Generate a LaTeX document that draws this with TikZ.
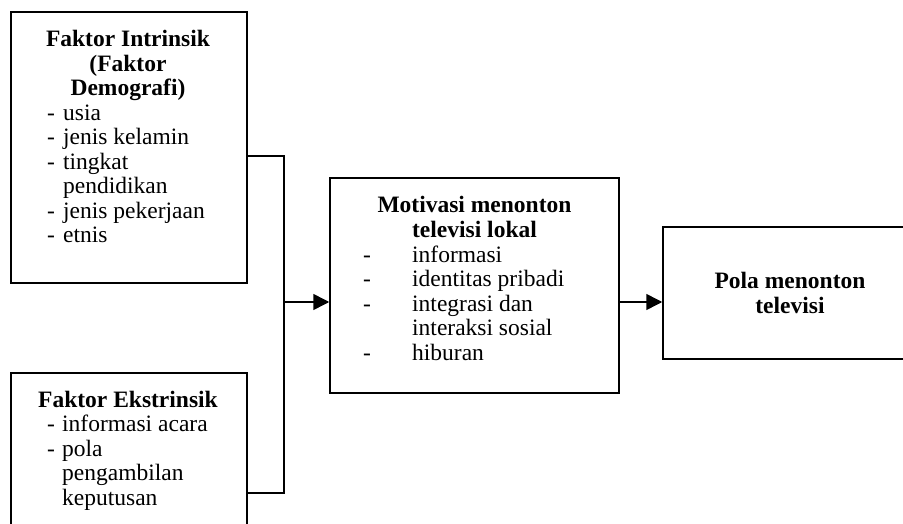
\documentclass[tikz,border=0pt]{standalone}
\usepackage{fontspec}
\setmainfont{Liberation Serif}
\usetikzlibrary{arrows.meta,positioning}

\newcommand{\bigfont}{\fontsize{23.5}{24.5}\selectfont}
\tikzset{
  box/.style={draw, line width=1.5pt, inner sep=0pt},
  title/.style={inner sep=0pt, anchor=base, font=\bigfont\bfseries},
  list/.style={inner sep=0pt, anchor=base west},
  link/.style={line width=1.5pt},
  flow/.style={line width=1.5pt, -{Triangle[length=16pt,width=16pt]}}
}

\begin{document}
\begin{tikzpicture}[x=1pt,y=-1pt,font=\bigfont]
\useasboundingbox (0,0) rectangle (903,524);
\clip (0,0) rectangle (903,524);

% boxes
\node [box, minimum width=236pt, minimum height=271pt] (intr) at (129,147.5) {};
\node [box, minimum width=236pt, minimum height=240pt] (ekst) at (129,493) {};
\node [box, minimum width=289pt, minimum height=215pt] (motiv) at (474.5,285.5) {};
\node [box, minimum width=254pt, minimum height=132pt, align=center, font=\bigfont\bfseries] (pola) at (790,293) {Pola menonton\\televisi};

% texts
\node [title] (intrtitle) at (128,47) {\begin{tabular}[t]{@{}c@{}}Faktor Intrinsik\\(Faktor\\Demografi)\end{tabular}};
\node [list] (intrlist) at (47,120.5) {\begin{tabular}[t]{@{}p{16pt}@{}l@{}}
-&usia\\-&jenis kelamin\\-&tingkat\\&pendidikan\\-&jenis pekerjaan\\-&etnis\end{tabular}};

\node [title] (eksttitle) at (128,407) {Faktor Ekstrinsik};
\node [list] (ekstlist) at (47,431.5) {\begin{tabular}[t]{@{}p{15pt}@{}l@{}}
-&informasi acara\\-&pola\\&pengambilan\\&keputusan\end{tabular}};

\node [title] (motivtitle) at (474.5,213) {\begin{tabular}[t]{@{}c@{}}Motivasi menonton\\televisi lokal\end{tabular}};
\node [list] (motivlist) at (363,262) {\begin{tabular}[t]{@{}p{49pt}@{}l@{}}
-&informasi\\-&identitas pribadi\\-&integrasi dan\\&interaksi sosial\\-&hiburan\end{tabular}};

% connectors
\coordinate (junct) at (284,302);
\draw [link] ([yshift=-8.5pt]intr.east) -| (junct);
\draw [link] (ekst.east) -| (junct);
\draw [flow] (junct) -- (junct -| motiv.west);
\draw [flow] (junct -| motiv.east) -- (junct -| pola.west);
\end{tikzpicture}
\end{document}
